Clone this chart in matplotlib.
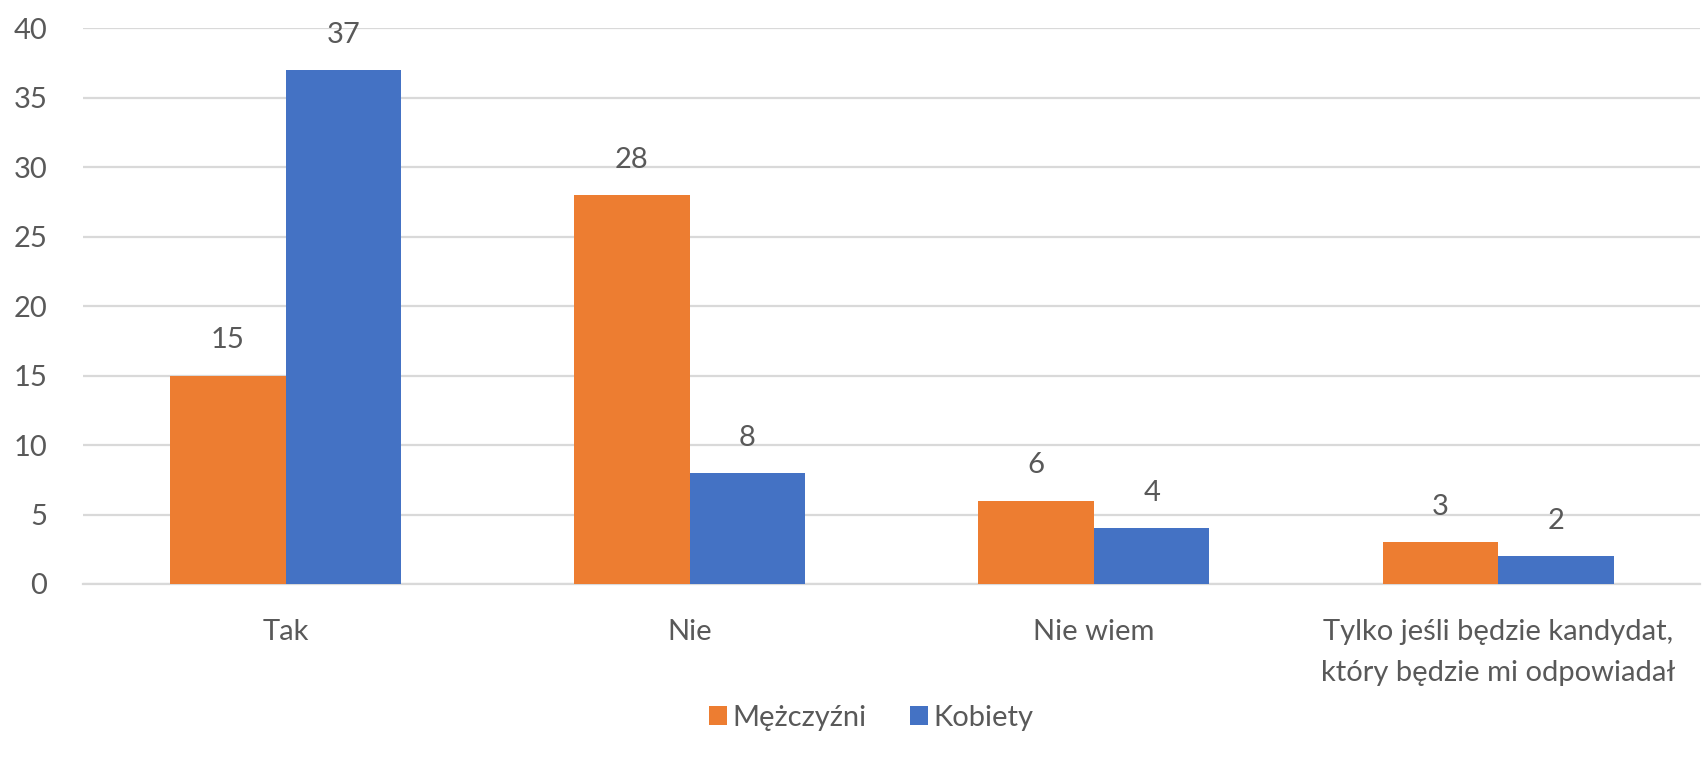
import matplotlib.pyplot as plt
import numpy as np

plt.rcParams['font.family'] = ['Lato', 'DejaVu Sans']

categories = ['Tak', 'Nie', 'Nie wiem',
              'Tylko jeśli będzie kandydat,\nktóry będzie mi odpowiadał']
men = [15, 28, 6, 3]
women = [37, 8, 4, 2]
series_names = ['Mężczyźni', 'Kobiety']
yticks = [0, 5, 10, 15, 20, 25, 30, 35, 40]

orange = '#ED7D31'
blue = '#4472C4'
grey = '#595959'

fig = plt.figure(figsize=(17.02, 7.66), dpi=100)
ax = fig.add_axes([0.049, 0.2376, 0.95, 0.7258])

x = np.arange(len(categories))
w = 0.2857
b1 = ax.bar(x - w / 2, men, w, color=orange, label=series_names[0], zorder=3)
b2 = ax.bar(x + w / 2, women, w, color=blue, label=series_names[1], zorder=3)

for bars in (b1, b2):
    ax.bar_label(bars, padding=16, fontsize=21, color=grey)

ax.set_xlim(-0.5, len(categories) - 0.5)
ax.set_ylim(0, 40)
ax.set_yticks(yticks)
ax.set_xticks(x)
ax.set_xticklabels(categories, fontsize=21, color=grey, linespacing=1.75)
ax.tick_params(axis='y', labelsize=21, labelcolor=grey, length=0, pad=26)
ax.tick_params(axis='x', length=0, pad=25)
ax.yaxis.grid(True, color='#d9d9d9', linewidth=1.6, zorder=0)

for s in ['top', 'right', 'left']:
    ax.spines[s].set_visible(False)
ax.spines['bottom'].set_color('#d9d9d9')
ax.spines['bottom'].set_linewidth(1.6)

fig.legend(loc='center', bbox_to_anchor=(0.512, 0.063), ncol=2, frameon=False,
           fontsize=21, labelcolor=grey, handlelength=0.6, handleheight=0.6,
           handletextpad=0.2, columnspacing=1.5)

fig.savefig('out.png', dpi=100)
